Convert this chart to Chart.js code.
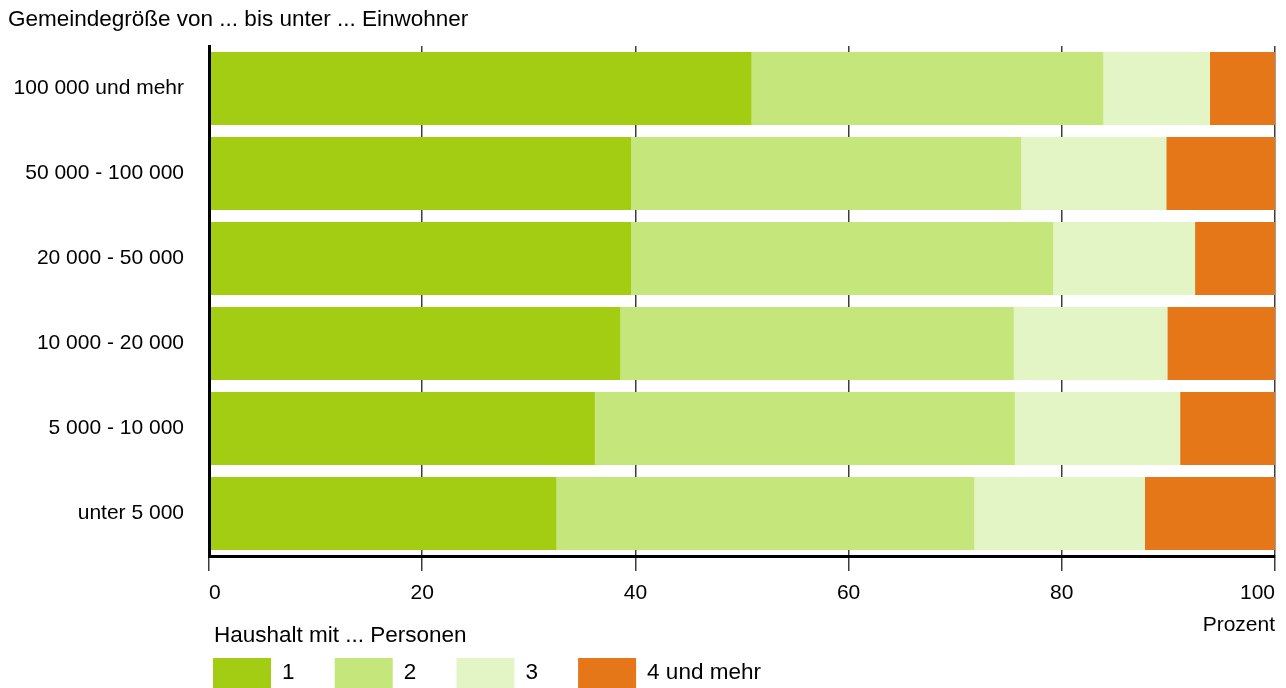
<!DOCTYPE html>
<html lang="de">
<head>
<meta charset="utf-8">
<title>Haushalte nach Gemeindegröße</title>
<script src="https://cdn.jsdelivr.net/npm/chart.js@4.4.1/dist/chart.umd.min.js"></script>
<style>
  html, body { margin: 0; padding: 0; background: #fff; overflow: hidden; }
  #wrap { position: relative; width: 1286px; height: 688px; }
</style>
</head>
<body>
<div id="wrap"><canvas id="haushaltChart"></canvas></div>
<script>
// Gemeindegröße (von oben nach unten)
const categories = ['100 000 und mehr', '50 000 - 100 000', '20 000 - 50 000', '10 000 - 20 000', '5 000 - 10 000', 'unter 5 000'];

// Anteile in Prozent
const pers1 = [50.9, 39.6, 39.6, 38.6, 36.2, 32.6];
const pers2 = [33.0, 36.6, 39.6, 36.9, 39.4, 39.2];
const pers3 = [10.0, 13.6, 13.3, 14.4, 15.5, 16.0];
const pers4 = [6.1, 10.2, 7.5, 10.1, 8.9, 12.2];

const seriesLabels = ['1', '2', '3', '4 und mehr'];
const seriesColors = ['#a2cd12', '#c4e67a', '#e4f5c5', '#e57719'];

const xTicks = [0, 20, 40, 60, 80, 100];

const titleText = 'Gemeindegröße von ... bis unter ... Einwohner';
const legendTitle = 'Haushalt mit ... Personen';
const axisTitle = 'Prozent';

const FONT = '"Liberation Sans", Arial, sans-serif';

document.addEventListener('DOMContentLoaded', function() {
  const ctx = document.getElementById('haushaltChart').getContext('2d');

  // Überschrift und Legende werden direkt auf das Canvas gezeichnet
  const extras = {
    id: 'extras',
    afterDraw(chart) {
      const c = chart.ctx;
      c.save();
      c.fillStyle = '#000';
      c.textBaseline = 'middle';
      c.textAlign = 'left';
      c.font = '22.5px ' + FONT;
      c.fillText(titleText, 8, 20);
      c.fillText(legendTitle, 214, 636);

      chart.data.datasets.forEach(function(ds, i) {
        const x = 213 + i * 121.7;
        c.fillStyle = ds.backgroundColor;
        c.fillRect(x, 658, 58, 30);
        c.fillStyle = '#000';
        c.fillText(ds.label, x + 69, 673);
      });
      c.restore();
    }
  };

  const datasets = [pers1, pers2, pers3, pers4].map(function(values, i) {
    return {
      label: seriesLabels[i],
      data: values,
      backgroundColor: seriesColors[i],
      borderWidth: 0,
      categoryPercentage: 0.86,
      barPercentage: 1.0
    };
  });

  new Chart(ctx, {
    type: 'bar',
    data: { labels: categories, datasets: datasets },
    plugins: [extras],
    options: {
      indexAxis: 'y',
      responsive: true,
      maintainAspectRatio: false,
      animation: false,
      layout: { padding: { top: 46, right: 11, bottom: 0, left: 0 } },
      plugins: {
        legend: { display: false },
        tooltip: { enabled: false }
      },
      scales: {
        x: {
          stacked: true,
          min: 0,
          max: 100,
          afterBuildTicks: function(scale) {
            scale.ticks = xTicks.map(function(v) { return { value: v }; });
          },
          afterFit: function(scale) {
            scale.height = 132;
            scale.paddingLeft = 0;
            scale.paddingRight = 0;
          },
          grid: {
            color: '#3c3c3c',
            lineWidth: 1.5,
            drawTicks: true,
            tickLength: 15
          },
          border: { display: true, color: '#000', width: 3, z: 1 },
          ticks: {
            align: 'inner',
            padding: 10,
            color: '#000',
            font: { family: FONT, size: 21 }
          },
          title: {
            display: true,
            text: axisTitle,
            align: 'end',
            color: '#000',
            font: { family: FONT, size: 21 },
            padding: { top: 0, bottom: 50 }
          }
        },
        y: {
          stacked: true,
          afterFit: function(scale) {
            scale.width = 209;
          },
          grid: { display: false, drawTicks: false, tickLength: 0 },
          border: { display: true, color: '#000', width: 3, z: 1 },
          ticks: {
            padding: 25,
            color: '#000',
            font: { family: FONT, size: 21 }
          }
        }
      }
    }
  });
});
</script>
</body>
</html>
